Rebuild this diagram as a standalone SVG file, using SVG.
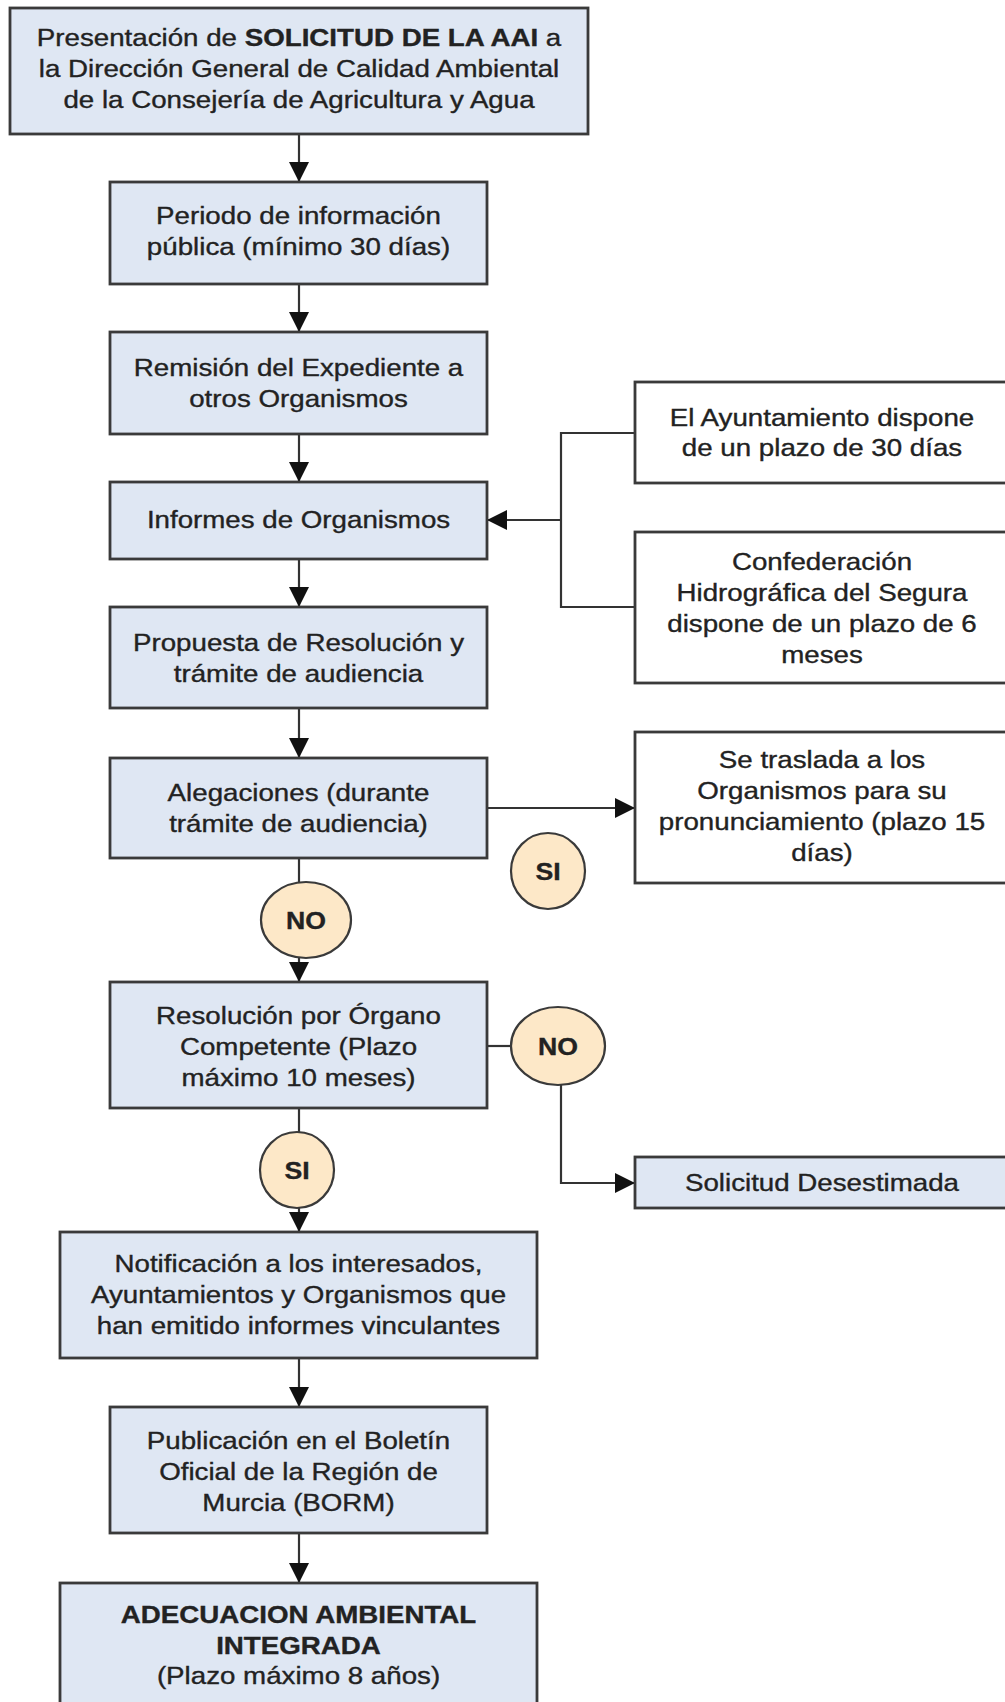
<svg xmlns="http://www.w3.org/2000/svg" width="1005" height="1702" viewBox="0 0 1005 1702">
<style>
.box{fill:#dfe7f3;stroke:#3a3a3a;stroke-width:2.8}
.wbox{fill:#ffffff;stroke:#3a3a3a;stroke-width:2.8}
.circ{fill:#fde8c8;stroke:#3a3a3a;stroke-width:2.2}
.t{font-family:"Liberation Sans",Arial,sans-serif;font-size:24px;fill:#222222;stroke:#222222;stroke-width:0.35;text-anchor:middle}
.b{font-weight:bold}
.ln{fill:none;stroke:#333333;stroke-width:2.2}
</style>
<defs>
<marker id="ah" markerUnits="userSpaceOnUse" markerWidth="20" markerHeight="20" refX="20" refY="10" orient="auto" viewBox="0 0 20 20">
<path d="M0,0 L20,10 L0,20 z" fill="#111111"/>
</marker>
</defs>
<rect width="1005" height="1702" fill="#ffffff"/>

<g id="connectors">
<line class="ln" x1="299" y1="134" x2="299" y2="182" marker-end="url(#ah)"/>
<line class="ln" x1="299" y1="284" x2="299" y2="332" marker-end="url(#ah)"/>
<line class="ln" x1="299" y1="434" x2="299" y2="482" marker-end="url(#ah)"/>
<line class="ln" x1="299" y1="559" x2="299" y2="607" marker-end="url(#ah)"/>
<line class="ln" x1="299" y1="708" x2="299" y2="758" marker-end="url(#ah)"/>
<line class="ln" x1="299" y1="858" x2="299" y2="883"/>
<line class="ln" x1="299" y1="956" x2="299" y2="982" marker-end="url(#ah)"/>
<line class="ln" x1="299" y1="1108" x2="299" y2="1132"/>
<line class="ln" x1="299" y1="1207" x2="299" y2="1232" marker-end="url(#ah)"/>
<line class="ln" x1="299" y1="1358" x2="299" y2="1407" marker-end="url(#ah)"/>
<line class="ln" x1="299" y1="1533" x2="299" y2="1583" marker-end="url(#ah)"/>
<line class="ln" x1="487" y1="808" x2="635" y2="808" marker-end="url(#ah)"/>
<path class="ln" d="M635,433 H561 V607 H635"/>
<line class="ln" x1="561" y1="520" x2="487" y2="520" marker-end="url(#ah)"/>
<line class="ln" x1="487" y1="1046" x2="511" y2="1046"/>
<path class="ln" d="M561,1085 V1183 H635" marker-end="url(#ah)"/>
</g>

<g id="n1">
<rect class="box" x="10" y="8" width="578" height="126"/>
<text class="t" transform="matrix(1.155 0 0 1 299 0)"><tspan x="0" y="46">Presentación de <tspan class="b">SOLICITUD DE LA AAI</tspan> a</tspan><tspan x="0" y="77">la Dirección General de Calidad Ambiental</tspan><tspan x="0" y="108">de la Consejería de Agricultura y Agua</tspan></text>
</g>
<g id="n2">
<rect class="box" x="110" y="182" width="377" height="102"/>
<text class="t" transform="matrix(1.155 0 0 1 298.5 0)"><tspan x="0" y="224">Periodo de información</tspan><tspan x="0" y="255">pública (mínimo 30 días)</tspan></text>
</g>
<g id="n3">
<rect class="box" x="110" y="332" width="377" height="102"/>
<text class="t" transform="matrix(1.155 0 0 1 298.5 0)"><tspan x="0" y="376">Remisión del Expediente a</tspan><tspan x="0" y="407">otros Organismos</tspan></text>
</g>
<g id="n4">
<rect class="box" x="110" y="482" width="377" height="77"/>
<text class="t" transform="matrix(1.155 0 0 1 298.5 0)"><tspan x="0" y="528">Informes de Organismos</tspan></text>
</g>
<g id="n5">
<rect class="box" x="110" y="607" width="377" height="101"/>
<text class="t" transform="matrix(1.155 0 0 1 298.5 0)"><tspan x="0" y="651">Propuesta de Resolución y</tspan><tspan x="0" y="682">trámite de audiencia</tspan></text>
</g>
<g id="n6">
<rect class="box" x="110" y="758" width="377" height="100"/>
<text class="t" transform="matrix(1.155 0 0 1 298.5 0)"><tspan x="0" y="801">Alegaciones (durante</tspan><tspan x="0" y="832">trámite de audiencia)</tspan></text>
</g>
<g id="c1">
<ellipse class="circ" cx="306" cy="920" rx="45" ry="38"/>
<text class="t b" transform="matrix(1.11 0 0 1 306 0)"><tspan x="0" y="929">NO</tspan></text>
</g>
<g id="n7">
<rect class="box" x="110" y="982" width="377" height="126"/>
<text class="t" transform="matrix(1.155 0 0 1 298.5 0)"><tspan x="0" y="1024">Resolución por Órgano</tspan><tspan x="0" y="1055">Competente (Plazo</tspan><tspan x="0" y="1086">máximo 10 meses)</tspan></text>
</g>
<g id="c2">
<ellipse class="circ" cx="297" cy="1170" rx="37" ry="38"/>
<text class="t b" transform="matrix(1.11 0 0 1 297 0)"><tspan x="0" y="1179">SI</tspan></text>
</g>
<g id="n8">
<rect class="box" x="60" y="1232" width="477" height="126"/>
<text class="t" transform="matrix(1.155 0 0 1 298.5 0)"><tspan x="0" y="1272">Notificación a los interesados,</tspan><tspan x="0" y="1303">Ayuntamientos y Organismos que</tspan><tspan x="0" y="1334">han emitido informes vinculantes</tspan></text>
</g>
<g id="n9">
<rect class="box" x="110" y="1407" width="377" height="126"/>
<text class="t" transform="matrix(1.155 0 0 1 298.5 0)"><tspan x="0" y="1449">Publicación en el Boletín</tspan><tspan x="0" y="1480">Oficial de la Región de</tspan><tspan x="0" y="1511">Murcia (BORM)</tspan></text>
</g>
<g id="n10">
<rect class="box" x="60" y="1583" width="477" height="130"/>
<text class="t" transform="matrix(1.155 0 0 1 298.5 0)"><tspan x="0" y="1623" class="b">ADECUACION AMBIENTAL</tspan><tspan x="0" y="1654" class="b">INTEGRADA</tspan><tspan x="0" y="1684">(Plazo máximo 8 años)</tspan></text>
</g>
<g id="r1">
<rect class="wbox" x="635" y="382" width="377" height="101"/>
<text class="t" transform="matrix(1.155 0 0 1 822 0)"><tspan x="0" y="426">El Ayuntamiento dispone</tspan><tspan x="0" y="456">de un plazo de 30 días</tspan></text>
</g>
<g id="r2">
<rect class="wbox" x="635" y="532" width="377" height="151"/>
<text class="t" transform="matrix(1.155 0 0 1 822 0)"><tspan x="0" y="570">Confederación</tspan><tspan x="0" y="601">Hidrográfica del Segura</tspan><tspan x="0" y="632">dispone de un plazo de 6</tspan><tspan x="0" y="663">meses</tspan></text>
</g>
<g id="r3">
<rect class="wbox" x="635" y="732" width="377" height="151"/>
<text class="t" transform="matrix(1.155 0 0 1 822 0)"><tspan x="0" y="768">Se traslada a los</tspan><tspan x="0" y="799">Organismos para su</tspan><tspan x="0" y="830">pronunciamiento (plazo 15</tspan><tspan x="0" y="861">días)</tspan></text>
</g>
<g id="c3">
<ellipse class="circ" cx="548" cy="871" rx="37" ry="38"/>
<text class="t b" transform="matrix(1.11 0 0 1 548 0)"><tspan x="0" y="880">SI</tspan></text>
</g>
<g id="c4">
<ellipse class="circ" cx="558" cy="1046" rx="47" ry="39"/>
<text class="t b" transform="matrix(1.11 0 0 1 558 0)"><tspan x="0" y="1055">NO</tspan></text>
</g>
<g id="r4">
<rect class="box" x="635" y="1157" width="377" height="51"/>
<text class="t" transform="matrix(1.155 0 0 1 822 0)"><tspan x="0" y="1191">Solicitud Desestimada</tspan></text>
</g>
</svg>
